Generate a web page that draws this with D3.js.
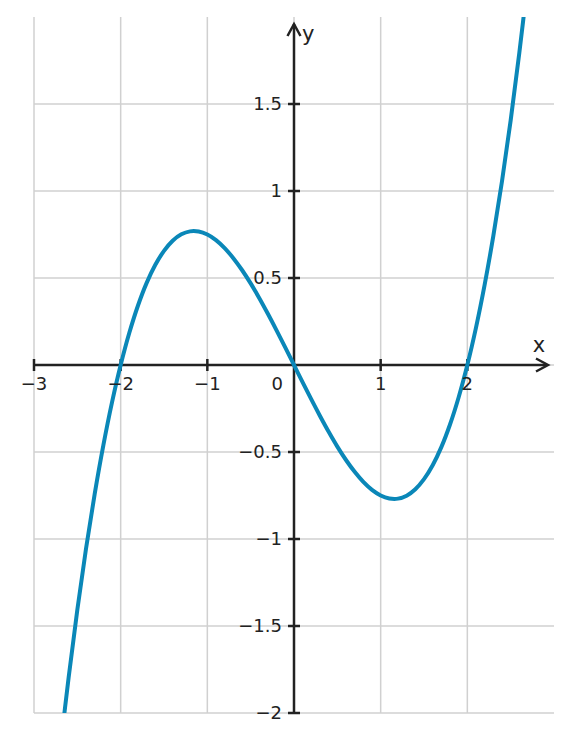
<!DOCTYPE html>
<html><head><meta charset="utf-8">
<script src="https://cdn.jsdelivr.net/npm/d3@7"></script>
<style>html,body{margin:0;padding:0;background:#fff;}svg{display:block;font-family:"DejaVu Sans",sans-serif;}</style>
</head><body>
<svg id="c" width="572" height="741"></svg>
<script>
// Points
const xs = [-2.7,-2.6,-2.5,-2.4,-2.3,-2.2,-2.1,-2.0,-1.9,-1.8,-1.7,-1.6,-1.5,-1.4,-1.3,-1.2,-1.1,-1.0,-0.9,-0.8,-0.7,-0.6,-0.5,-0.4,-0.3,-0.2,-0.1,0,
  0.1,0.2,0.3,0.4,0.5,0.6,0.7,0.8,0.9,1.0,1.1,1.2,1.3,1.4,1.5,1.6,1.7,1.8,1.9,2.0,2.1,2.2,2.3,2.4,2.5,2.6,2.7];
const ys = [-2.22,-1.794,-1.406,-1.056,-0.742,-0.462,-0.215,0,0.185,0.342,0.472,0.576,0.656,0.714,0.751,0.768,0.767,0.75,0.718,0.672,0.614,0.546,0.469,0.384,0.293,0.198,0.1,0,
  -0.1,-0.198,-0.293,-0.384,-0.469,-0.546,-0.614,-0.672,-0.718,-0.75,-0.767,-0.768,-0.751,-0.714,-0.656,-0.576,-0.472,-0.342,-0.185,0,0.215,0.462,0.742,1.056,1.406,1.794,2.22];
const xTicks = [-3,-2,-1,1,2];
const xTickLabels = ["\u22123","\u22122","\u22121","1","2"];
const yTicks = [-2,-1.5,-1,-0.5,0.5,1,1.5];
const yTickLabels = ["\u22122","\u22121.5","\u22121","\u22120.5","0.5","1","1.5"];
const xGrid = [-3,-2,-1,0,1,2];
const yGrid = [-2,-1.5,-1,-0.5,0,0.5,1,1.5];

const svg = d3.select("#c");
const x = d3.scaleLinear().domain([-3,3]).range([34,554]);
const y = d3.scaleLinear().domain([-2,2]).range([713,17]);
const ink = "#222";

svg.append("defs").append("clipPath").attr("id","clip")
  .append("rect").attr("x",x(-3)).attr("y",y(2)).attr("width",x(3)-x(-3)).attr("height",y(-2)-y(2));

const g = svg.append("g");
g.selectAll(".vg").data(xGrid).enter().append("line")
  .attr("x1",d=>x(d)).attr("x2",d=>x(d)).attr("y1",y(2)).attr("y2",y(-2))
  .attr("stroke","#d0d0d0").attr("stroke-width",1.5);
g.selectAll(".hg").data(yGrid).enter().append("line")
  .attr("y1",d=>y(d)).attr("y2",d=>y(d)).attr("x1",x(-3)).attr("x2",x(3))
  .attr("stroke","#d0d0d0").attr("stroke-width",1.5);

// axes
const axW = 2.5;
g.append("line").attr("x1",x(-3)).attr("x2",x(3)-7).attr("y1",y(0)).attr("y2",y(0)).attr("stroke",ink).attr("stroke-width",axW);
g.append("line").attr("x1",x(0)).attr("x2",x(0)).attr("y1",y(-2)).attr("y2",y(2)+7).attr("stroke",ink).attr("stroke-width",axW);
// arrows
const ax = x(3)-6, ay = y(0);
g.append("path").attr("d",`M${ax-12},${ay-6.5} L${ax},${ay} L${ax-12},${ay+6.5}`).attr("fill","none").attr("stroke",ink).attr("stroke-width",axW).attr("stroke-linejoin","miter");
const bx = x(0), by = y(2)+7;
g.append("path").attr("d",`M${bx-6.5},${by+12} L${bx},${by} L${bx+6.5},${by+12}`).attr("fill","none").attr("stroke",ink).attr("stroke-width",axW).attr("stroke-linejoin","miter");

// ticks
g.selectAll(".xt").data(xTicks).enter().append("line")
  .attr("x1",d=>x(d)).attr("x2",d=>x(d)).attr("y1",y(0)-6).attr("y2",y(0)+6).attr("stroke",ink).attr("stroke-width",2.5);
g.selectAll(".yt").data(yTicks).enter().append("line")
  .attr("y1",d=>y(d)).attr("y2",d=>y(d)).attr("x1",x(0)-6).attr("x2",x(0)+6).attr("stroke",ink).attr("stroke-width",2.5);

// curve
const pts = xs.map((v,i)=>[v,ys[i]]);
g.append("path").datum(pts).attr("clip-path","url(#clip)")
  .attr("d",d3.line().x(d=>x(d[0])).y(d=>y(d[1])).curve(d3.curveCatmullRom))
  .attr("fill","none").attr("stroke","#0a87b8").attr("stroke-width",4).attr("stroke-linecap","butt");

// labels
const fs = 18;
g.selectAll(".xl").data(xTicks).enter().append("text")
  .attr("x",d=>x(d)).attr("y",y(0)+25).attr("text-anchor","middle").attr("font-size",fs).attr("fill",ink)
  .text((d,i)=>xTickLabels[i]);
g.append("text").attr("x",x(0)-11).attr("y",y(0)+25).attr("text-anchor","end").attr("font-size",fs).attr("fill",ink).text("0");
g.selectAll(".yl").data(yTicks).enter().append("text")
  .attr("x",x(0)-12).attr("y",d=>y(d)+6).attr("text-anchor","end").attr("font-size",fs).attr("fill",ink)
  .text((d,i)=>yTickLabels[i]);
g.append("text").attr("x",x(3)-15).attr("y",y(0)-13).attr("text-anchor","middle").attr("font-size",21).attr("fill",ink).text("x");
g.append("text").attr("x",x(0)+8).attr("y",y(2)+24).attr("text-anchor","start").attr("font-size",21).attr("fill",ink).text("y");
</script>
</body></html>
